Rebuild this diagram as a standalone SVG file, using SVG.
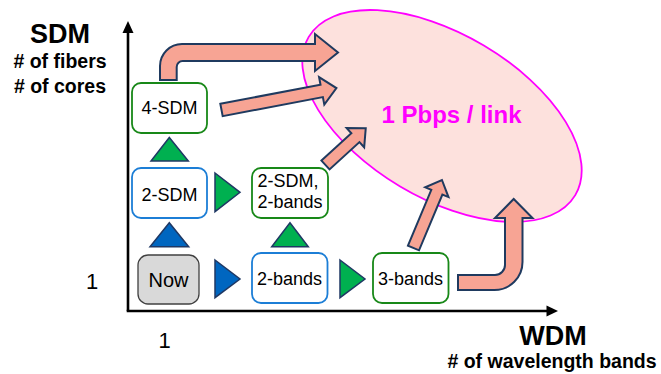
<svg xmlns="http://www.w3.org/2000/svg" width="661" height="374" viewBox="0 0 661 374">
<style>
text{font-family:"Liberation Sans",Arial,sans-serif;fill:#000}
.t{font-size:18px;text-anchor:middle}
.h{font-size:27px;font-weight:bold;text-anchor:middle}
.s{font-size:19.5px;font-weight:bold;text-anchor:middle}
.n{font-size:22px;text-anchor:middle}
.bg{fill:#fff;stroke:#188818;stroke-width:1.8}
.bb{fill:#fff;stroke:#1C7ED6;stroke-width:1.8}
.tg{fill:#00B050;stroke:#1F3864;stroke-width:1.5;stroke-linejoin:miter}
.tb{fill:#0066C0;stroke:#1F3864;stroke-width:1.5}
.ar{fill:#F7A494;stroke:#1F3A5F;stroke-width:2;stroke-linejoin:miter}
.ax{stroke:#000;stroke-width:2.6;fill:none}
</style>
<g id="target">
<ellipse cx="442" cy="116" rx="155" ry="82" transform="rotate(30.7 442 116)" fill="#FDE1DD" stroke="#FF00FF" stroke-width="1.8"/>
</g>
<g id="axes">
<line class="ax" x1="128" y1="311" x2="128" y2="31"/>
<polygon points="128,21 122.5,33 133.5,33" fill="#000"/>
<line class="ax" x1="126.7" y1="311" x2="548" y2="311"/>
<polygon points="558,311 546.5,305.5 546.5,316.5" fill="#000"/>
</g>
<g id="labels">
<text class="h" x="60" y="43">SDM</text>
<text class="s" x="60" y="68"># of fibers</text>
<text class="s" x="60" y="93"># of cores</text>
<text class="n" x="92" y="289">1</text>
<text class="n" x="164.5" y="348">1</text>
<text class="h" x="553" y="345">WDM</text>
<text class="s" x="552" y="368"># of wavelength bands</text>
</g>
<g id="connectors">
<path class="ar" d="M160,80 L160,66 A22,22 0 0 1 182,44 L315,44 L315,34 L338,52.5 L315,71 L315,61 L182.7,61 A6,6 0 0 0 176.7,67 L176.7,80 Z"/>
<path class="ar" transform="translate(221.5,110) rotate(-10.8)" d="M0,-6.3 L102,-6.3 L102,-14 L117,0 L102,14 L102,6.3 L0,6.3 Z"/>
<path class="ar" transform="translate(325.5,165) rotate(-42.4)" d="M0,-6 L40.5,-6 L40.5,-13 L54.5,0 L40.5,13 L40.5,6 L0,6 Z"/>
<path class="ar" transform="translate(413.5,248) rotate(-67.3)" d="M0,-6 L60.5,-6 L60.5,-12.6 L73.7,0 L60.5,12.6 L60.5,6 L0,6 Z"/>
<path class="ar" d="M458,275 L495,275 A10,10 0 0 0 505,265 L505,218 L495,218 L513.7,199 L532.5,218 L522.5,218 L522.5,262 A28,28 0 0 1 494.5,290 L458,290 Z"/>
<polygon class="tg" points="169.3,137.5 151,161 188.3,161"/>
<polygon class="tb" points="169.3,222.7 150,246.7 188.7,246.7"/>
<polygon class="tg" points="215,173 240,192.3 215,211.7"/>
<polygon class="tg" points="290,222.7 271.7,246.7 308.3,246.7"/>
<polygon class="tb" points="215,260 240,279 215,297.7"/>
<polygon class="tg" points="340,260 365,279 340,297.7"/>
</g>
<g id="node-4sdm">
<rect class="bg" x="132" y="83" width="75" height="50" rx="9"/>
<text class="t" x="169.5" y="114">4-SDM</text>
</g>
<g id="node-2sdm">
<rect class="bb" x="132" y="168" width="75" height="50" rx="9"/>
<text class="t" x="169.5" y="200.5">2-SDM</text>
</g>
<g id="node-now">
<rect x="138" y="255" width="61" height="49" rx="10" fill="#D9D9D9" stroke="#404040" stroke-width="1.3"/>
<text x="168.5" y="287.3" text-anchor="middle" font-size="20px">Now</text>
</g>
<g id="node-2sdm-2bands">
<rect class="bg" x="252" y="168" width="76" height="50" rx="9"/>
<text x="257.5" y="186.7" font-size="18px">2-SDM,</text>
<text x="257.5" y="208.3" font-size="18px">2-bands</text>
</g>
<g id="node-2bands">
<rect class="bb" x="252" y="253" width="75.5" height="50" rx="9"/>
<text class="t" x="289.5" y="285">2-bands</text>
</g>
<g id="node-3bands">
<rect class="bg" x="373" y="253" width="75.5" height="50" rx="9"/>
<text class="t" x="410.5" y="285">3-bands</text>
</g>
<g id="target-label">
<text x="451.5" y="123" text-anchor="middle" font-size="24px" font-weight="bold" style="fill:#FF00FF">1 Pbps / link</text>
</g>
</svg>
